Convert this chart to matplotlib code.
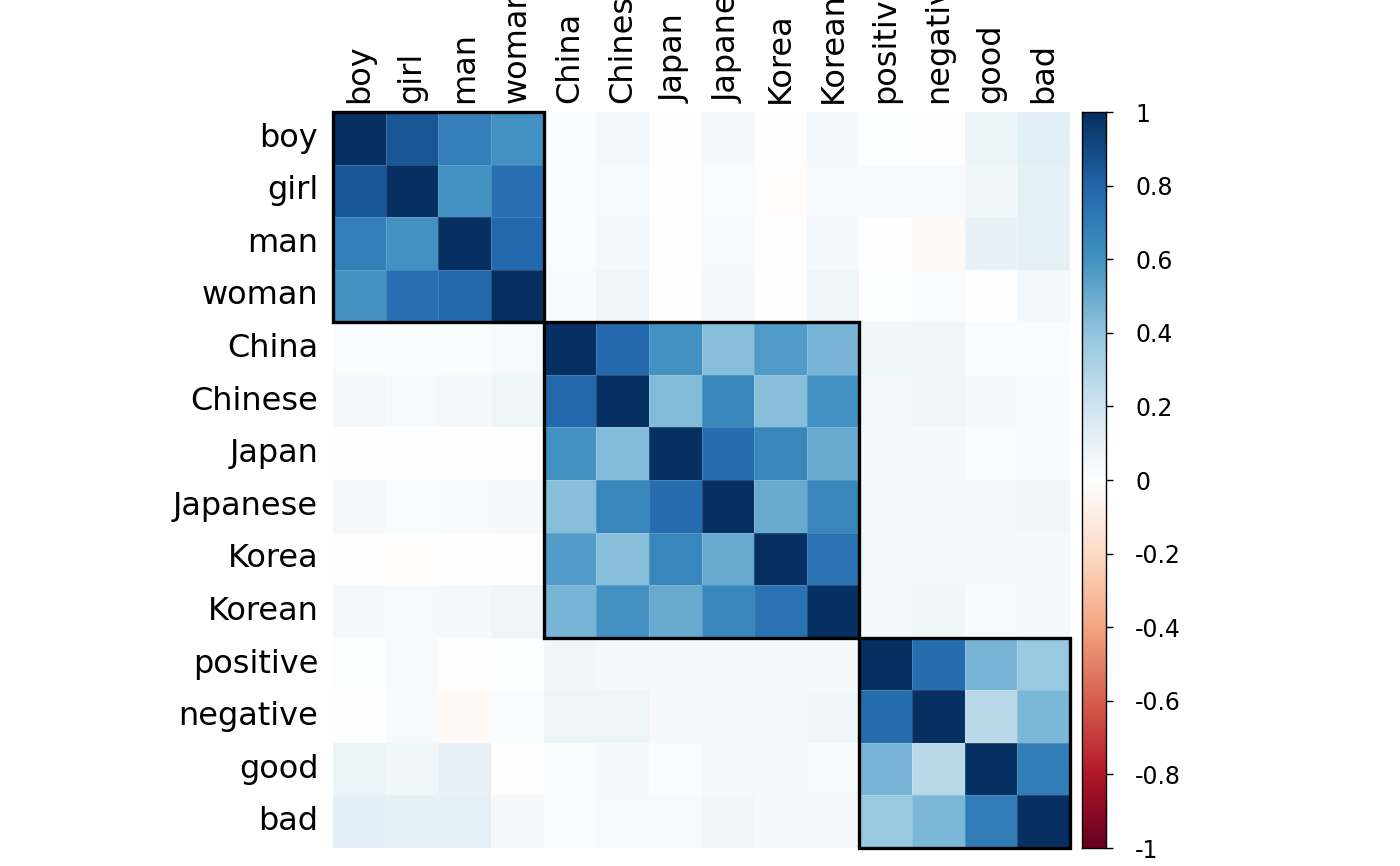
import numpy as np
import matplotlib
matplotlib.use("Agg")
import matplotlib.pyplot as plt
from matplotlib.colors import LinearSegmentedColormap
from matplotlib.patches import Rectangle

labels = ["boy", "girl", "man", "woman", "China", "Chinese", "Japan", "Japanese",
          "Korea", "Korean", "positive", "negative", "good", "bad"]

# upper-triangle correlations, row by row (excluding diagonal)
upper = {
    "boy":      [0.85, 0.68, 0.60, 0.02, 0.05, 0.00, 0.04, -0.005, 0.04, 0.01, -0.005, 0.08, 0.12],
    "girl":     [0.60, 0.75, 0.02, 0.03, 0.00, 0.02, -0.02, 0.03, 0.03, 0.03, 0.06, 0.11],
    "man":      [0.78, 0.02, 0.05, 0.00, 0.03, 0.00, 0.04, -0.01, -0.04, 0.10, 0.11],
    "woman":    [0.03, 0.07, 0.00, 0.04, 0.00, 0.07, 0.01, 0.02, 0.00, 0.04],
    "China":    [0.78, 0.60, 0.42, 0.57, 0.46, 0.06, 0.07, 0.02, 0.02],
    "Chinese":  [0.43, 0.65, 0.42, 0.60, 0.04, 0.07, 0.04, 0.03],
    "Japan":    [0.76, 0.65, 0.50, 0.04, 0.04, 0.02, 0.03],
    "Japanese": [0.50, 0.65, 0.04, 0.04, 0.05, 0.06],
    "Korea":    [0.74, 0.05, 0.05, 0.04, 0.04],
    "Korean":   [0.04, 0.06, 0.03, 0.04],
    "positive": [0.76, 0.46, 0.37],
    "negative": [0.27, 0.45],
    "good":     [0.70],
}
groups = [(0, 4), (4, 10), (10, 14)]
cbar_ticks = [-1, -0.8, -0.6, -0.4, -0.2, 0, 0.2, 0.4, 0.6, 0.8, 1]
cbar_labels = ["-1", "-0.8", "-0.6", "-0.4", "-0.2", "0", "0.2", "0.4", "0.6", "0.8", "1"]

n = len(labels)
M = np.eye(n)
for i, lab in enumerate(labels[:-1]):
    vals = upper[lab]
    for k, v in enumerate(vals):
        j = i + 1 + k
        M[i, j] = v
        M[j, i] = v

cols = ["#67001F", "#B2182B", "#D6604D", "#F4A582", "#FDDBC7", "#FFFFFF",
        "#D1E5F0", "#92C5DE", "#4393C3", "#2166AC", "#053061"]
cmap = LinearSegmentedColormap.from_list("rdbu", cols, N=200)

plt.rcParams['font.family'] = ['DejaVu Sans']
fig = plt.figure(figsize=(14, 8.66), dpi=100)
ax = fig.add_axes([333/1400, 18/866, 737/1400, 736/866])
ax.pcolormesh(np.arange(n+1), np.arange(n+1), M, cmap=cmap, vmin=-1, vmax=1,
              edgecolors=(1, 1, 1, 0.15), linewidth=0.4)
ax.set_xlim(0, n)
ax.set_ylim(n, 0)
ax.set_axis_off()

for (a, b) in groups:
    ax.add_patch(Rectangle((a, a), b - a, b - a, fill=False, edgecolor="black",
                           linewidth=2.4, clip_on=False, zorder=5))

for i, lab in enumerate(labels):
    ax.text(-0.28, i + 0.5, lab, ha="right", va="center", fontsize=23)
    ax.text(i + 0.5, -0.17, lab, ha="center", va="bottom", rotation=90, fontsize=23,
            clip_on=False)

cax = fig.add_axes([1082/1400, 18/866, 24/1400, 736/866])
grad = np.linspace(-1, 1, 400).reshape(-1, 1)
cax.imshow(grad, cmap=cmap, vmin=-1, vmax=1, aspect="auto", origin="lower",
           extent=[0, 1, -1, 1])
cax.set_xticks([])
cax.yaxis.tick_right()
cax.set_yticks(cbar_ticks)
cax.set_yticklabels(cbar_labels, fontsize=17)
cax.tick_params(axis="y", length=5, width=1, pad=16)
for s in cax.spines.values():
    s.set_linewidth(1)
cax.set_ylim(-1, 1)

fig.savefig("out.png", dpi=100)
